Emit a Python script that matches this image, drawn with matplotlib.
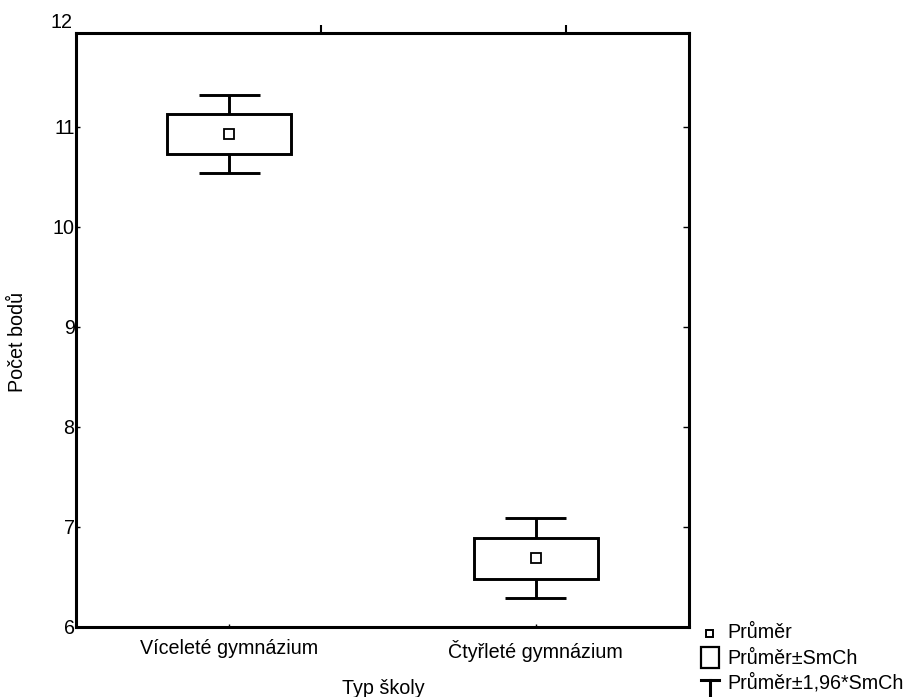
import matplotlib
matplotlib.use("Agg")
import matplotlib.pyplot as plt
from matplotlib.patches import Rectangle
from matplotlib.lines import Line2D

plt.rcParams['font.family'] = ['Liberation Sans', 'DejaVu Sans']

categories = ["Víceleté gymnázium", "Čtyřleté gymnázium"]
means = [10.93, 6.69]
se = [0.20, 0.205]
ci_factor = 1.96
yticks = [6, 7, 8, 9, 10, 11, 12]
xlabel = "Typ školy"
ylabel = "Počet bodů"
legend_labels = ["Průměr", "Průměr±SmCh", "Průměr±1,96*SmCh"]

FS = 14.2
W, H = 907, 697
fig = plt.figure(figsize=(W / 100, H / 100), dpi=100)
ax = fig.add_axes([76 / W, 1 - 627 / H, (689 - 76) / W, (627 - 33) / H])

lw = 2.1
box_w = 0.405
cap_w = 0.20
xs = list(range(1, len(categories) + 1))
for x, m, s in zip(xs, means, se):
    lo_b, hi_b = m - s, m + s
    lo_w, hi_w = m - ci_factor * s, m + ci_factor * s
    ax.add_patch(Rectangle((x - box_w / 2, lo_b), box_w, hi_b - lo_b,
                           fill=False, lw=lw, ec='black', zorder=3))
    ax.plot([x, x], [hi_b, hi_w], color='black', lw=lw, solid_capstyle='butt')
    ax.plot([x, x], [lo_w, lo_b], color='black', lw=lw, solid_capstyle='butt')
    ax.plot([x - cap_w / 2, x + cap_w / 2], [hi_w, hi_w], color='black', lw=lw, solid_capstyle='butt')
    ax.plot([x - cap_w / 2, x + cap_w / 2], [lo_w, lo_w], color='black', lw=lw, solid_capstyle='butt')
    ax.plot([x], [m], marker='s', ms=6.5, mfc='white', mec='black', mew=1.3, ls='none', zorder=4)

ax.set_xlim(0.5, 2.5)
ax.set_ylim(6, 11.94)
ax.set_xticks(xs)
ax.set_xticklabels(categories, fontsize=FS)
ax.set_yticks(yticks[:-1])
ax.set_yticklabels([str(t) for t in yticks[:-1]], fontsize=FS)
ax.text(-0.006, 12.05, str(yticks[-1]), transform=ax.get_yaxis_transform(),
        ha='right', va='center', fontsize=FS, clip_on=False)
ax.tick_params(axis='y', direction='in', length=3, width=1, pad=1)
ax.tick_params(axis='x', direction='in', length=2, width=1, pad=9)
for sp in ax.spines.values():
    sp.set_linewidth(2.2)

axr = ax.twinx()
axr.set_ylim(ax.get_ylim())
axr.set_yticks(yticks[1:-1])
axr.set_yticklabels([])
axr.tick_params(axis='y', direction='in', length=4, width=1)

axt = ax.twiny()
axt.set_xlim(ax.get_xlim())
axt.set_xticks([1.30, 2.10])
axt.set_xticklabels([])
axt.tick_params(axis='x', direction='out', length=6, width=1.5)

fig.text(383 / W, 1 - 688 / H, xlabel, ha='center', va='center', fontsize=FS)
fig.text(18 / W, 1 - 342 / H, ylabel, ha='center', va='center', rotation=90, fontsize=FS)

# legend drawn in pixel coordinates
ov = fig.add_axes([0, 0, 1, 1], zorder=-1)
ov.set_xlim(0, W)
ov.set_ylim(H, 0)
ov.axis('off')
ov.add_patch(Rectangle((706, 630), 7, 7, fill=False, ec='black', lw=1.4))
ov.add_patch(Rectangle((701, 647), 18, 21, fill=False, ec='black', lw=1.6))
ov.add_line(Line2D([701, 719], [679.5, 679.5], color='black', lw=2.2))
ov.add_line(Line2D([710, 710], [679.5, 697], color='black', lw=2.2))
for yy, lab in zip([633, 659, 683], legend_labels):
    ov.text(727, yy, lab, ha='left', va='center', fontsize=FS)

fig.savefig("out.png", dpi=100)
